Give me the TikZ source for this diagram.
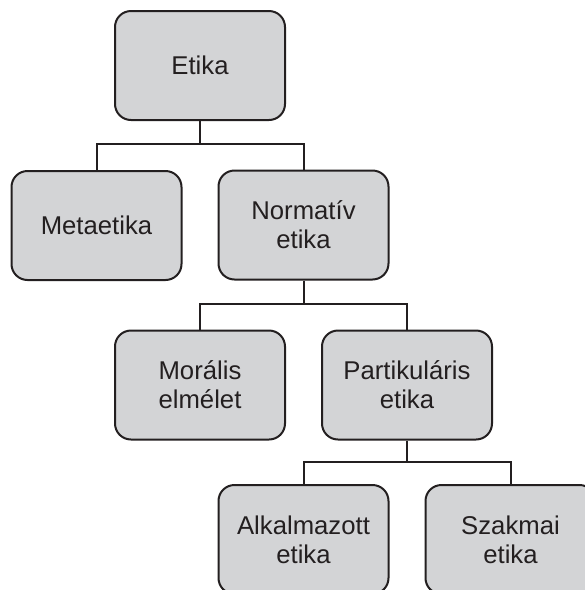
\documentclass[tikz,border=0pt]{standalone}
\usepackage{fontspec}
\setmainfont{Liberation Sans}
\definecolor{boxfill}{RGB}{211,212,214}
\definecolor{trait}{RGB}{35,31,32}

\begin{document}
\begin{tikzpicture}[x=1pt,y=-1pt,
    boite/.style={draw=trait, line width=2pt, fill=boxfill, rounded corners=16pt,
        minimum width=170pt, minimum height=109pt, inner sep=0pt,
        align=center, text=trait, font=\fontsize{25.7}{29}\selectfont},
    lien/.style={draw=trait, line width=2pt}]
% colonnes et lignes (en px de l'image)
\def\dx{103.5}
\def\xa{96.5}
\useasboundingbox (0,0) rectangle (585,590);

% les boites
\node[boite] (etika)    at (\xa+\dx,65.5)   {Etika};
\node[boite] (meta)     at (\xa,225.5)      {Metaetika};
\node[boite] (normativ) at (\xa+2*\dx,225)  {Normatív\\etika};
\node[boite] (moralis)  at (\xa+\dx,385)    {Morális\\elmélet};
\node[boite] (partik)   at (\xa+3*\dx,385)  {Partikuláris\\etika};
\node[boite] (alkalm)   at (\xa+2*\dx,539.5) {Alkalmazott\\etika};
\node[boite] (szakmai)  at (\xa+4*\dx,539.5) {Szakmai\\etika};

% les barres horizontales
\coordinate (bus1) at (0,144);
\coordinate (bus2) at (0,304);
\coordinate (bus3) at (0,462);

% les liens
\draw[lien] (etika.south) -- (etika.south |- bus1);
\draw[lien] (meta.north) -- (meta.north |- bus1) -| (normativ.north);
\draw[lien] (normativ.south) -- (normativ.south |- bus2);
\draw[lien] (moralis.north) -- (moralis.north |- bus2) -| (partik.north);
\draw[lien] (partik.south) -- (partik.south |- bus3);
\draw[lien] (alkalm.north) -- (alkalm.north |- bus3) -| (szakmai.north);
\end{tikzpicture}
\end{document}
